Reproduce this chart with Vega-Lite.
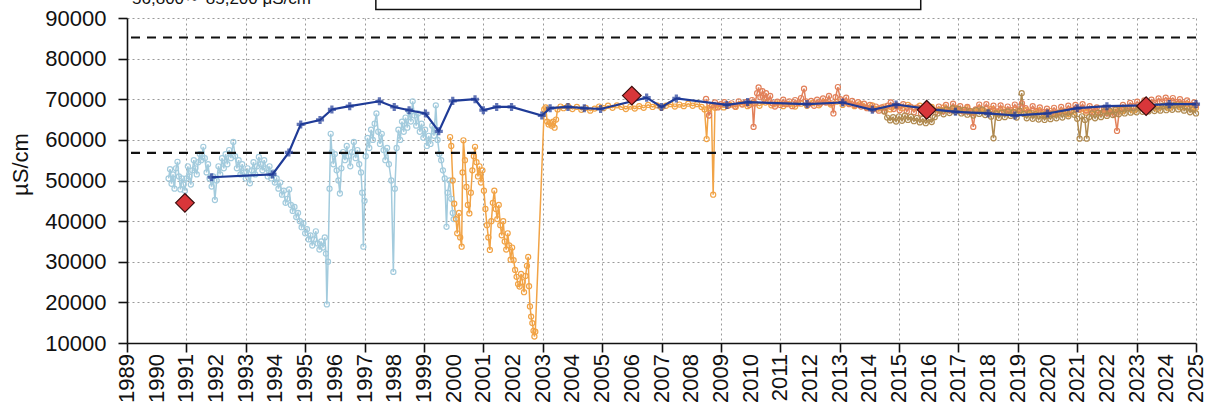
{
"$schema":"https://vega.github.io/schema/vega-lite/v6.json",
"width":1069,"height":325,
"autosize":{"type":"none"},
"padding":{"left":127,"top":18,"right":11,"bottom":75},
"background":"white",
"config":{"view":{"stroke":null},"font":"Liberation Sans",
"axis":{"domainColor":"#111","domainWidth":1.6,"tickColor":"#111","tickWidth":1.6,"tickSize":9,"labelColor":"#111","labelFont":"Liberation Sans","gridColor":"#9a9a9a","gridDash":[2,3],"gridWidth":1}},
"datasets":{
"pts":[
{"s":"b","x":1990.40,"y":50500},{"s":"b","x":1990.45,"y":52800},{"s":"b","x":1990.50,"y":49200},{"s":"b","x":1990.55,"y":51500},{"s":"b","x":1990.60,"y":48000},{"s":"b","x":1990.65,"y":53000},{"s":"b","x":1990.70,"y":54600},{"s":"b","x":1990.75,"y":51000},{"s":"b","x":1990.80,"y":47800},{"s":"b","x":1990.85,"y":50500},{"s":"b","x":1990.90,"y":49000},{"s":"b","x":1990.95,"y":47500},{"s":"b","x":1991.00,"y":50500},{"s":"b","x":1991.05,"y":53500},{"s":"b","x":1991.10,"y":51000},{"s":"b","x":1991.15,"y":49000},{"s":"b","x":1991.20,"y":52500},{"s":"b","x":1991.25,"y":55000},{"s":"b","x":1991.30,"y":53000},{"s":"b","x":1991.35,"y":51500},{"s":"b","x":1991.40,"y":54500},{"s":"b","x":1991.45,"y":56500},{"s":"b","x":1991.50,"y":55000},{"s":"b","x":1991.57,"y":58300},{"s":"b","x":1991.62,"y":55500},{"s":"b","x":1991.68,"y":52000},{"s":"b","x":1991.73,"y":54000},{"s":"b","x":1991.78,"y":50500},{"s":"b","x":1991.85,"y":48500},{"s":"b","x":1991.90,"y":51000},{"s":"b","x":1991.96,"y":45200},{"s":"b","x":1992.02,"y":50000},{"s":"b","x":1992.08,"y":53500},{"s":"b","x":1992.14,"y":51500},{"s":"b","x":1992.20,"y":55500},{"s":"b","x":1992.26,"y":53000},{"s":"b","x":1992.32,"y":56500},{"s":"b","x":1992.38,"y":54000},{"s":"b","x":1992.44,"y":57500},{"s":"b","x":1992.50,"y":55500},{"s":"b","x":1992.58,"y":59500},{"s":"b","x":1992.64,"y":56000},{"s":"b","x":1992.70,"y":53000},{"s":"b","x":1992.76,"y":55000},{"s":"b","x":1992.82,"y":51500},{"s":"b","x":1992.88,"y":54000},{"s":"b","x":1992.94,"y":52000},{"s":"b","x":1993.00,"y":50500},{"s":"b","x":1993.06,"y":53000},{"s":"b","x":1993.14,"y":49300},{"s":"b","x":1993.20,"y":52500},{"s":"b","x":1993.26,"y":54500},{"s":"b","x":1993.32,"y":51500},{"s":"b","x":1993.38,"y":53500},{"s":"b","x":1993.44,"y":55800},{"s":"b","x":1993.50,"y":54000},{"s":"b","x":1993.56,"y":52500},{"s":"b","x":1993.62,"y":55000},{"s":"b","x":1993.68,"y":53000},{"s":"b","x":1993.74,"y":51000},{"s":"b","x":1993.80,"y":53500},{"s":"b","x":1993.86,"y":50500},{"s":"b","x":1993.92,"y":52000},{"s":"b","x":1993.98,"y":49500},{"s":"b","x":1994.04,"y":50500},{"s":"b","x":1994.10,"y":48000},{"s":"b","x":1994.16,"y":49500},{"s":"b","x":1994.22,"y":46500},{"s":"b","x":1994.28,"y":47500},{"s":"b","x":1994.34,"y":44500},{"s":"b","x":1994.40,"y":45500},{"s":"b","x":1994.46,"y":47800},{"s":"b","x":1994.52,"y":44000},{"s":"b","x":1994.58,"y":42500},{"s":"b","x":1994.64,"y":43500},{"s":"b","x":1994.70,"y":41000},{"s":"b","x":1994.76,"y":42000},{"s":"b","x":1994.82,"y":40000},{"s":"b","x":1994.88,"y":38500},{"s":"b","x":1994.94,"y":39500},{"s":"b","x":1995.00,"y":37000},{"s":"b","x":1995.06,"y":38000},{"s":"b","x":1995.12,"y":35500},{"s":"b","x":1995.18,"y":36500},{"s":"b","x":1995.24,"y":34000},{"s":"b","x":1995.30,"y":35500},{"s":"b","x":1995.36,"y":37500},{"s":"b","x":1995.42,"y":34500},{"s":"b","x":1995.48,"y":33000},{"s":"b","x":1995.54,"y":35000},{"s":"b","x":1995.60,"y":33500},{"s":"b","x":1995.66,"y":36000},{"s":"b","x":1995.70,"y":32000},{"s":"b","x":1995.73,"y":19500},{"s":"b","x":1995.77,"y":30000},{"s":"b","x":1995.82,"y":48000},{"s":"b","x":1995.86,"y":61500},{"s":"b","x":1995.90,"y":57000},{"s":"b","x":1995.95,"y":54000},{"s":"b","x":1996.00,"y":56500},{"s":"b","x":1996.06,"y":52500},{"s":"b","x":1996.12,"y":50000},{"s":"b","x":1996.17,"y":46800},{"s":"b","x":1996.22,"y":53000},{"s":"b","x":1996.28,"y":57000},{"s":"b","x":1996.34,"y":55000},{"s":"b","x":1996.40,"y":58500},{"s":"b","x":1996.46,"y":56000},{"s":"b","x":1996.52,"y":53500},{"s":"b","x":1996.58,"y":57000},{"s":"b","x":1996.64,"y":59500},{"s":"b","x":1996.70,"y":55500},{"s":"b","x":1996.76,"y":57500},{"s":"b","x":1996.82,"y":54000},{"s":"b","x":1996.88,"y":52000},{"s":"b","x":1996.92,"y":47000},{"s":"b","x":1996.96,"y":33700},{"s":"b","x":1997.00,"y":45000},{"s":"b","x":1997.04,"y":56000},{"s":"b","x":1997.10,"y":60500},{"s":"b","x":1997.16,"y":58000},{"s":"b","x":1997.22,"y":62500},{"s":"b","x":1997.28,"y":60000},{"s":"b","x":1997.34,"y":64000},{"s":"b","x":1997.40,"y":66500},{"s":"b","x":1997.46,"y":62000},{"s":"b","x":1997.52,"y":59000},{"s":"b","x":1997.58,"y":61500},{"s":"b","x":1997.64,"y":57500},{"s":"b","x":1997.70,"y":55000},{"s":"b","x":1997.76,"y":58000},{"s":"b","x":1997.82,"y":54000},{"s":"b","x":1997.90,"y":50000},{"s":"b","x":1997.97,"y":27500},{"s":"b","x":1998.02,"y":48000},{"s":"b","x":1998.08,"y":58000},{"s":"b","x":1998.14,"y":62500},{"s":"b","x":1998.20,"y":60000},{"s":"b","x":1998.26,"y":64500},{"s":"b","x":1998.32,"y":62000},{"s":"b","x":1998.38,"y":65500},{"s":"b","x":1998.44,"y":63000},{"s":"b","x":1998.50,"y":67000},{"s":"b","x":1998.56,"y":64500},{"s":"b","x":1998.62,"y":69500},{"s":"b","x":1998.68,"y":66000},{"s":"b","x":1998.74,"y":63500},{"s":"b","x":1998.80,"y":66500},{"s":"b","x":1998.86,"y":62000},{"s":"b","x":1998.92,"y":64000},{"s":"b","x":1998.98,"y":60500},{"s":"b","x":1999.04,"y":62500},{"s":"b","x":1999.10,"y":58500},{"s":"b","x":1999.16,"y":61000},{"s":"b","x":1999.22,"y":59000},{"s":"b","x":1999.28,"y":63500},{"s":"b","x":1999.34,"y":61000},{"s":"b","x":1999.40,"y":68500},{"s":"b","x":1999.46,"y":60000},{"s":"b","x":1999.52,"y":56500},{"s":"b","x":1999.58,"y":55000},{"s":"b","x":1999.64,"y":52500},{"s":"b","x":1999.70,"y":50500},{"s":"b","x":1999.76,"y":38600},{"s":"b","x":1999.80,"y":47000},{"s":"b","x":1999.86,"y":50000},{"s":"b","x":1999.92,"y":45500},{"s":"b","x":1999.97,"y":42000},{"s":"b","x":2000.00,"y":40500},
{"s":"o","x":1999.88,"y":60700},{"s":"o","x":1999.92,"y":58500},{"s":"o","x":1999.97,"y":50000},{"s":"o","x":2000.02,"y":44300},{"s":"o","x":2000.08,"y":40500},{"s":"o","x":2000.12,"y":37000},{"s":"o","x":2000.18,"y":42000},{"s":"o","x":2000.22,"y":36000},{"s":"o","x":2000.27,"y":33700},{"s":"o","x":2000.30,"y":52000},{"s":"o","x":2000.33,"y":59900},{"s":"o","x":2000.38,"y":55000},{"s":"o","x":2000.43,"y":48400},{"s":"o","x":2000.48,"y":44000},{"s":"o","x":2000.53,"y":41900},{"s":"o","x":2000.58,"y":47000},{"s":"o","x":2000.63,"y":52500},{"s":"o","x":2000.68,"y":56000},{"s":"o","x":2000.72,"y":58300},{"s":"o","x":2000.77,"y":54500},{"s":"o","x":2000.82,"y":51000},{"s":"o","x":2000.87,"y":53500},{"s":"o","x":2000.92,"y":49500},{"s":"o","x":2000.97,"y":52500},{"s":"o","x":2001.02,"y":47500},{"s":"o","x":2001.07,"y":43000},{"s":"o","x":2001.12,"y":39000},{"s":"o","x":2001.17,"y":36000},{"s":"o","x":2001.22,"y":32900},{"s":"o","x":2001.27,"y":40000},{"s":"o","x":2001.32,"y":44500},{"s":"o","x":2001.37,"y":47500},{"s":"o","x":2001.42,"y":43000},{"s":"o","x":2001.47,"y":40500},{"s":"o","x":2001.52,"y":44000},{"s":"o","x":2001.57,"y":39000},{"s":"o","x":2001.62,"y":36500},{"s":"o","x":2001.67,"y":40000},{"s":"o","x":2001.72,"y":35000},{"s":"o","x":2001.77,"y":33000},{"s":"o","x":2001.82,"y":37000},{"s":"o","x":2001.87,"y":34000},{"s":"o","x":2001.92,"y":30500},{"s":"o","x":2001.97,"y":33500},{"s":"o","x":2002.02,"y":30400},{"s":"o","x":2002.07,"y":28000},{"s":"o","x":2002.12,"y":26300},{"s":"o","x":2002.17,"y":24500},{"s":"o","x":2002.22,"y":23900},{"s":"o","x":2002.27,"y":27000},{"s":"o","x":2002.32,"y":25000},{"s":"o","x":2002.37,"y":22500},{"s":"o","x":2002.42,"y":26500},{"s":"o","x":2002.47,"y":29000},{"s":"o","x":2002.51,"y":31200},{"s":"o","x":2002.54,"y":24000},{"s":"o","x":2002.57,"y":19000},{"s":"o","x":2002.61,"y":16500},{"s":"o","x":2002.65,"y":14900},{"s":"o","x":2002.69,"y":13000},{"s":"o","x":2002.72,"y":11600},{"s":"o","x":2002.75,"y":12800},{"s":"o","x":2003.05,"y":67500},{"s":"o","x":2003.10,"y":68000},{"s":"o","x":2003.15,"y":64500},{"s":"o","x":2003.20,"y":63800},{"s":"o","x":2003.25,"y":64200},{"s":"o","x":2003.30,"y":63500},{"s":"o","x":2003.35,"y":64500},{"s":"o","x":2003.40,"y":63000},{"s":"o","x":2003.45,"y":65000},{"s":"o","x":2003.50,"y":67500},{"s":"o","x":2003.60,"y":68200},{"s":"o","x":2003.70,"y":67800},{"s":"o","x":2003.85,"y":68300},{"s":"o","x":2004.00,"y":67600},{"s":"o","x":2004.15,"y":68100},{"s":"o","x":2004.30,"y":67400},{"s":"o","x":2004.45,"y":67900},{"s":"o","x":2004.60,"y":67200},{"s":"o","x":2004.75,"y":67700},{"s":"o","x":2004.90,"y":68200},{"s":"o","x":2005.05,"y":67800},{"s":"o","x":2005.20,"y":68400},{"s":"o","x":2005.35,"y":67900},{"s":"o","x":2005.50,"y":68500},{"s":"o","x":2005.65,"y":68100},{"s":"o","x":2005.80,"y":67600},{"s":"o","x":2005.95,"y":68200},{"s":"o","x":2006.10,"y":67700},{"s":"o","x":2006.25,"y":68300},{"s":"o","x":2006.40,"y":67900},{"s":"o","x":2006.55,"y":68600},{"s":"o","x":2006.70,"y":68100},{"s":"o","x":2006.85,"y":68500},{"s":"o","x":2007.00,"y":67900},{"s":"o","x":2007.15,"y":68400},{"s":"o","x":2007.30,"y":68800},{"s":"o","x":2007.45,"y":68200},{"s":"o","x":2007.60,"y":68700},{"s":"o","x":2007.75,"y":68300},{"s":"o","x":2007.90,"y":68900},{"s":"o","x":2008.05,"y":68400},{"s":"o","x":2008.20,"y":68800},{"s":"o","x":2008.35,"y":68100},{"s":"o","x":2008.45,"y":67500},{"s":"o","x":2008.52,"y":60200},{"s":"o","x":2008.58,"y":67800},{"s":"o","x":2008.68,"y":68200},{"s":"o","x":2008.74,"y":46500},{"s":"o","x":2008.80,"y":67900},{"s":"o","x":2008.95,"y":68400},{"s":"o","x":2009.10,"y":68000},{"s":"o","x":2009.30,"y":68600},{"s":"o","x":2009.50,"y":68100},{"s":"o","x":2009.70,"y":68900},{"s":"o","x":2009.90,"y":68300},{"s":"o","x":2010.10,"y":69000},{"s":"o","x":2010.30,"y":68400},{"s":"o","x":2010.50,"y":69200},{"s":"o","x":2010.70,"y":68500},{"s":"o","x":2010.90,"y":69000},{"s":"o","x":2011.10,"y":68300},{"s":"o","x":2011.30,"y":68800},{"s":"o","x":2011.50,"y":68200},{"s":"o","x":2011.70,"y":68900},{"s":"o","x":2011.90,"y":68400},{"s":"o","x":2012.10,"y":69100},{"s":"o","x":2012.30,"y":68500},{"s":"o","x":2012.50,"y":69300},{"s":"o","x":2012.70,"y":68700},{"s":"o","x":2012.90,"y":69400},{"s":"o","x":2013.10,"y":68600},{"s":"o","x":2013.30,"y":69100},{"s":"o","x":2013.50,"y":68300},{"s":"o","x":2013.70,"y":68800},{"s":"o","x":2013.90,"y":68000},{"s":"o","x":2014.10,"y":68500},{"s":"o","x":2014.30,"y":67700},{"s":"o","x":2014.50,"y":68200},{"s":"o","x":2014.70,"y":67500},{"s":"o","x":2014.90,"y":68300},{"s":"o","x":2015.10,"y":67800},{"s":"o","x":2015.30,"y":68600},{"s":"o","x":2015.50,"y":67900},{"s":"o","x":2015.70,"y":68400},{"s":"o","x":2015.90,"y":67600},{"s":"o","x":2016.10,"y":68100},{"s":"o","x":2016.30,"y":67400},{"s":"o","x":2016.50,"y":68000},{"s":"o","x":2016.70,"y":67300},{"s":"o","x":2016.90,"y":67900},{"s":"o","x":2017.10,"y":67200},{"s":"o","x":2017.30,"y":67800},{"s":"o","x":2017.50,"y":67100},{"s":"o","x":2017.70,"y":67700},{"s":"o","x":2017.90,"y":67000},{"s":"o","x":2018.10,"y":67600},{"s":"o","x":2018.30,"y":66900},{"s":"o","x":2018.50,"y":67500},{"s":"o","x":2018.70,"y":66800},{"s":"o","x":2018.90,"y":67400},{"s":"o","x":2019.10,"y":66700},{"s":"o","x":2019.30,"y":67300},{"s":"o","x":2019.50,"y":66600},{"s":"o","x":2019.70,"y":67200},{"s":"o","x":2019.90,"y":66500},{"s":"o","x":2020.10,"y":67100},{"s":"o","x":2020.30,"y":66400},{"s":"o","x":2020.50,"y":67000},{"s":"o","x":2020.70,"y":66300},{"s":"o","x":2020.90,"y":66900},{"s":"o","x":2021.10,"y":67400},{"s":"o","x":2021.30,"y":66700},{"s":"o","x":2021.50,"y":67300},{"s":"o","x":2021.70,"y":66600},{"s":"o","x":2021.90,"y":67500},{"s":"o","x":2022.10,"y":66800},{"s":"o","x":2022.30,"y":67600},{"s":"o","x":2022.50,"y":67000},{"s":"o","x":2022.70,"y":67800},{"s":"o","x":2022.90,"y":67200},{"s":"o","x":2023.10,"y":68000},{"s":"o","x":2023.30,"y":67400},{"s":"o","x":2023.50,"y":68200},{"s":"o","x":2023.70,"y":67600},{"s":"o","x":2023.90,"y":68400},{"s":"o","x":2024.10,"y":67800},{"s":"o","x":2024.30,"y":68600},{"s":"o","x":2024.50,"y":68000},{"s":"o","x":2024.70,"y":68800},{"s":"o","x":2024.90,"y":68200},{"s":"o","x":2025.00,"y":67900},
{"s":"r","x":2008.50,"y":70100},{"s":"r","x":2008.60,"y":66000},{"s":"r","x":2008.70,"y":68500},{"s":"r","x":2008.80,"y":69200},{"s":"r","x":2008.90,"y":68000},{"s":"r","x":2009.00,"y":68800},{"s":"r","x":2009.12,"y":69300},{"s":"r","x":2009.24,"y":68400},{"s":"r","x":2009.36,"y":69000},{"s":"r","x":2009.48,"y":68200},{"s":"r","x":2009.60,"y":69500},{"s":"r","x":2009.72,"y":68700},{"s":"r","x":2009.84,"y":69300},{"s":"r","x":2009.96,"y":68600},{"s":"r","x":2010.05,"y":69800},{"s":"r","x":2010.10,"y":63200},{"s":"r","x":2010.15,"y":69000},{"s":"r","x":2010.22,"y":71500},{"s":"r","x":2010.27,"y":72900},{"s":"r","x":2010.33,"y":70500},{"s":"r","x":2010.40,"y":72000},{"s":"r","x":2010.46,"y":70000},{"s":"r","x":2010.52,"y":71500},{"s":"r","x":2010.58,"y":69500},{"s":"r","x":2010.66,"y":70800},{"s":"r","x":2010.74,"y":69000},{"s":"r","x":2010.82,"y":68200},{"s":"r","x":2010.90,"y":69400},{"s":"r","x":2011.00,"y":68600},{"s":"r","x":2011.10,"y":69900},{"s":"r","x":2011.20,"y":68800},{"s":"r","x":2011.30,"y":69500},{"s":"r","x":2011.40,"y":68300},{"s":"r","x":2011.50,"y":69800},{"s":"r","x":2011.60,"y":69000},{"s":"r","x":2011.70,"y":70300},{"s":"r","x":2011.80,"y":72600},{"s":"r","x":2011.86,"y":69500},{"s":"r","x":2011.94,"y":68700},{"s":"r","x":2012.04,"y":69600},{"s":"r","x":2012.14,"y":68400},{"s":"r","x":2012.24,"y":69900},{"s":"r","x":2012.34,"y":68900},{"s":"r","x":2012.44,"y":70200},{"s":"r","x":2012.54,"y":69200},{"s":"r","x":2012.64,"y":70800},{"s":"r","x":2012.72,"y":69000},{"s":"r","x":2012.79,"y":66500},{"s":"r","x":2012.86,"y":70500},{"s":"r","x":2012.94,"y":73000},{"s":"r","x":2013.02,"y":70000},{"s":"r","x":2013.12,"y":69200},{"s":"r","x":2013.22,"y":70400},{"s":"r","x":2013.32,"y":68800},{"s":"r","x":2013.42,"y":69600},{"s":"r","x":2013.52,"y":68500},{"s":"r","x":2013.62,"y":69300},{"s":"r","x":2013.72,"y":68200},{"s":"r","x":2013.82,"y":68900},{"s":"r","x":2013.92,"y":67800},{"s":"r","x":2014.02,"y":68600},{"s":"r","x":2014.12,"y":67500},{"s":"r","x":2014.22,"y":68200},{"s":"r","x":2014.32,"y":67200},{"s":"r","x":2014.42,"y":68000},{"s":"r","x":2014.52,"y":67000},{"s":"r","x":2014.62,"y":68400},{"s":"r","x":2014.72,"y":69200},{"s":"r","x":2014.82,"y":67600},{"s":"r","x":2014.92,"y":68500},{"s":"r","x":2015.02,"y":67300},{"s":"r","x":2015.14,"y":68800},{"s":"r","x":2015.26,"y":67000},{"s":"r","x":2015.38,"y":68200},{"s":"r","x":2015.50,"y":66800},{"s":"r","x":2015.62,"y":68000},{"s":"r","x":2015.74,"y":66500},{"s":"r","x":2015.86,"y":67800},{"s":"r","x":2015.98,"y":66200},{"s":"r","x":2016.10,"y":67500},{"s":"r","x":2016.22,"y":66800},{"s":"r","x":2016.34,"y":68200},{"s":"r","x":2016.46,"y":67000},{"s":"r","x":2016.58,"y":68600},{"s":"r","x":2016.70,"y":67300},{"s":"r","x":2016.82,"y":68900},{"s":"r","x":2016.94,"y":67600},{"s":"r","x":2017.06,"y":68300},{"s":"r","x":2017.18,"y":66900},{"s":"r","x":2017.30,"y":68100},{"s":"r","x":2017.42,"y":66700},{"s":"r","x":2017.50,"y":63200},{"s":"r","x":2017.58,"y":67500},{"s":"r","x":2017.70,"y":68700},{"s":"r","x":2017.82,"y":67400},{"s":"r","x":2017.94,"y":68800},{"s":"r","x":2018.06,"y":67200},{"s":"r","x":2018.18,"y":68400},{"s":"r","x":2018.30,"y":67000},{"s":"r","x":2018.42,"y":68500},{"s":"r","x":2018.54,"y":66900},{"s":"r","x":2018.66,"y":68200},{"s":"r","x":2018.78,"y":67300},{"s":"r","x":2018.90,"y":68700},{"s":"r","x":2019.02,"y":67500},{"s":"r","x":2019.14,"y":69000},{"s":"r","x":2019.26,"y":67800},{"s":"r","x":2019.38,"y":66900},{"s":"r","x":2019.50,"y":68300},{"s":"r","x":2019.62,"y":67100},{"s":"r","x":2019.74,"y":68000},{"s":"r","x":2019.86,"y":66800},{"s":"r","x":2019.98,"y":67700},{"s":"r","x":2020.10,"y":66500},{"s":"r","x":2020.22,"y":67900},{"s":"r","x":2020.34,"y":66700},{"s":"r","x":2020.46,"y":68100},{"s":"r","x":2020.58,"y":67000},{"s":"r","x":2020.70,"y":68400},{"s":"r","x":2020.82,"y":67300},{"s":"r","x":2020.94,"y":68600},{"s":"r","x":2021.06,"y":67500},{"s":"r","x":2021.18,"y":68800},{"s":"r","x":2021.30,"y":67200},{"s":"r","x":2021.42,"y":68300},{"s":"r","x":2021.54,"y":66900},{"s":"r","x":2021.66,"y":68000},{"s":"r","x":2021.78,"y":66600},{"s":"r","x":2021.90,"y":67800},{"s":"r","x":2022.02,"y":66500},{"s":"r","x":2022.14,"y":67600},{"s":"r","x":2022.26,"y":66300},{"s":"r","x":2022.34,"y":62200},{"s":"r","x":2022.42,"y":67400},{"s":"r","x":2022.54,"y":68600},{"s":"r","x":2022.66,"y":67900},{"s":"r","x":2022.78,"y":69100},{"s":"r","x":2022.90,"y":68300},{"s":"r","x":2023.02,"y":69400},{"s":"r","x":2023.14,"y":68600},{"s":"r","x":2023.26,"y":69700},{"s":"r","x":2023.38,"y":68800},{"s":"r","x":2023.50,"y":69900},{"s":"r","x":2023.62,"y":69100},{"s":"r","x":2023.74,"y":70200},{"s":"r","x":2023.86,"y":69400},{"s":"r","x":2023.98,"y":70400},{"s":"r","x":2024.10,"y":69600},{"s":"r","x":2024.22,"y":70300},{"s":"r","x":2024.34,"y":69300},{"s":"r","x":2024.46,"y":70000},{"s":"r","x":2024.58,"y":68900},{"s":"r","x":2024.70,"y":69700},{"s":"r","x":2024.82,"y":68600},{"s":"r","x":2024.94,"y":69200},{"s":"r","x":2025.00,"y":68500},
{"s":"k","x":2014.50,"y":67000},{"s":"k","x":2014.60,"y":65500},{"s":"k","x":2014.70,"y":64800},{"s":"k","x":2014.80,"y":65600},{"s":"k","x":2014.90,"y":64500},{"s":"k","x":2015.00,"y":65800},{"s":"k","x":2015.10,"y":64700},{"s":"k","x":2015.20,"y":66000},{"s":"k","x":2015.30,"y":64900},{"s":"k","x":2015.40,"y":65700},{"s":"k","x":2015.50,"y":64600},{"s":"k","x":2015.60,"y":65400},{"s":"k","x":2015.70,"y":64300},{"s":"k","x":2015.80,"y":65200},{"s":"k","x":2015.90,"y":64100},{"s":"k","x":2016.00,"y":65000},{"s":"k","x":2016.10,"y":64400},{"s":"k","x":2016.20,"y":65600},{"s":"k","x":2016.30,"y":66500},{"s":"k","x":2016.40,"y":67200},{"s":"k","x":2016.50,"y":66300},{"s":"k","x":2016.60,"y":67500},{"s":"k","x":2016.70,"y":66600},{"s":"k","x":2016.80,"y":67800},{"s":"k","x":2016.90,"y":66900},{"s":"k","x":2017.00,"y":67600},{"s":"k","x":2017.10,"y":66500},{"s":"k","x":2017.20,"y":67400},{"s":"k","x":2017.30,"y":66200},{"s":"k","x":2017.40,"y":67100},{"s":"k","x":2017.50,"y":66000},{"s":"k","x":2017.60,"y":67300},{"s":"k","x":2017.70,"y":66400},{"s":"k","x":2017.80,"y":67500},{"s":"k","x":2017.90,"y":66100},{"s":"k","x":2018.00,"y":66800},{"s":"k","x":2018.10,"y":65700},{"s":"k","x":2018.18,"y":60400},{"s":"k","x":2018.26,"y":66500},{"s":"k","x":2018.36,"y":65400},{"s":"k","x":2018.46,"y":66700},{"s":"k","x":2018.56,"y":65600},{"s":"k","x":2018.66,"y":67000},{"s":"k","x":2018.76,"y":65900},{"s":"k","x":2018.86,"y":66800},{"s":"k","x":2018.96,"y":65500},{"s":"k","x":2019.06,"y":67200},{"s":"k","x":2019.13,"y":71500},{"s":"k","x":2019.20,"y":66400},{"s":"k","x":2019.30,"y":65300},{"s":"k","x":2019.40,"y":66600},{"s":"k","x":2019.50,"y":65200},{"s":"k","x":2019.60,"y":66300},{"s":"k","x":2019.70,"y":65000},{"s":"k","x":2019.80,"y":66100},{"s":"k","x":2019.90,"y":64900},{"s":"k","x":2020.00,"y":66000},{"s":"k","x":2020.10,"y":65100},{"s":"k","x":2020.20,"y":66400},{"s":"k","x":2020.30,"y":65300},{"s":"k","x":2020.40,"y":66700},{"s":"k","x":2020.50,"y":65500},{"s":"k","x":2020.60,"y":66900},{"s":"k","x":2020.70,"y":65800},{"s":"k","x":2020.80,"y":67000},{"s":"k","x":2020.90,"y":66200},{"s":"k","x":2021.00,"y":65200},{"s":"k","x":2021.08,"y":60300},{"s":"k","x":2021.16,"y":65800},{"s":"k","x":2021.26,"y":64900},{"s":"k","x":2021.32,"y":60300},{"s":"k","x":2021.40,"y":65600},{"s":"k","x":2021.50,"y":66500},{"s":"k","x":2021.60,"y":65300},{"s":"k","x":2021.70,"y":66700},{"s":"k","x":2021.80,"y":65600},{"s":"k","x":2021.90,"y":67000},{"s":"k","x":2022.00,"y":65900},{"s":"k","x":2022.10,"y":67200},{"s":"k","x":2022.20,"y":66100},{"s":"k","x":2022.30,"y":67400},{"s":"k","x":2022.40,"y":66300},{"s":"k","x":2022.50,"y":67600},{"s":"k","x":2022.60,"y":66500},{"s":"k","x":2022.70,"y":67800},{"s":"k","x":2022.80,"y":66700},{"s":"k","x":2022.90,"y":67900},{"s":"k","x":2023.00,"y":66800},{"s":"k","x":2023.10,"y":68000},{"s":"k","x":2023.20,"y":66900},{"s":"k","x":2023.30,"y":68100},{"s":"k","x":2023.40,"y":67000},{"s":"k","x":2023.50,"y":68200},{"s":"k","x":2023.60,"y":67100},{"s":"k","x":2023.70,"y":68300},{"s":"k","x":2023.80,"y":67200},{"s":"k","x":2023.90,"y":68400},{"s":"k","x":2024.00,"y":67300},{"s":"k","x":2024.10,"y":68500},{"s":"k","x":2024.20,"y":67400},{"s":"k","x":2024.30,"y":68600},{"s":"k","x":2024.40,"y":67500},{"s":"k","x":2024.50,"y":68700},{"s":"k","x":2024.60,"y":67200},{"s":"k","x":2024.70,"y":68000},{"s":"k","x":2024.80,"y":66800},{"s":"k","x":2024.90,"y":67500},{"s":"k","x":2025.00,"y":66500}
],
"annual":[
{"x":1991.85,"y":50800},{"x":1993.90,"y":51500},{"x":1994.45,"y":56900},{"x":1994.85,"y":63800},{"x":1995.50,"y":64900},{"x":1995.90,"y":67500},{"x":1996.50,"y":68300},{"x":1997.50,"y":69500},{"x":1998.00,"y":68100},{"x":1998.50,"y":67300},{"x":1999.05,"y":66500},{"x":1999.50,"y":62100},{"x":1999.97,"y":69600},{"x":2000.72,"y":70000},{"x":2001.00,"y":67300},{"x":2001.45,"y":68100},{"x":2001.95,"y":68100},{"x":2002.97,"y":66000},{"x":2003.25,"y":67800},{"x":2003.85,"y":68100},{"x":2004.40,"y":67800},{"x":2004.95,"y":67600},{"x":2006.50,"y":70400},{"x":2007.00,"y":68100},{"x":2007.50,"y":70200},{"x":2009.20,"y":68600},{"x":2009.90,"y":69300},{"x":2011.90,"y":68800},{"x":2013.10,"y":69200},{"x":2014.10,"y":67400},{"x":2014.90,"y":68700},{"x":2015.90,"y":67700},{"x":2016.90,"y":66900},{"x":2018.00,"y":66500},{"x":2018.90,"y":66000},{"x":2020.00,"y":66500},{"x":2021.00,"y":67800},{"x":2022.00,"y":68300},{"x":2023.20,"y":68500},{"x":2024.10,"y":68800},{"x":2025.00,"y":68800}
],
"dia":[{"x":1990.95,"y":44500},{"x":2006.0,"y":70900},{"x":2015.93,"y":67400},{"x":2023.32,"y":68300}],
"lim":[{"y":85200},{"y":56800}],
"yrs":[{"yr":1989},{"yr":1990},{"yr":1991},{"yr":1992},{"yr":1993},{"yr":1994},{"yr":1995},{"yr":1996},{"yr":1997},{"yr":1998},{"yr":1999},{"yr":2000},{"yr":2001},{"yr":2002},{"yr":2003},{"yr":2004},{"yr":2005},{"yr":2006},{"yr":2007},{"yr":2008},{"yr":2009},{"yr":2010},{"yr":2011},{"yr":2012},{"yr":2013},{"yr":2014},{"yr":2015},{"yr":2016},{"yr":2017},{"yr":2018},{"yr":2019},{"yr":2020},{"yr":2021},{"yr":2022},{"yr":2023},{"yr":2024},{"yr":2025}],
"cap":[{"t":"56,800～ 85,200 μS/cm"}]
},
"layer":[
{"data":{"name":"pts"},
 "mark":{"type":"line","strokeWidth":1.5,"point":{"filled":false,"size":26,"strokeWidth":1.2}},
 "encoding":{
  "x":{"field":"x","type":"quantitative","scale":{"domain":[1989,2025],"nice":false,"zero":false},
       "axis":{"title":null,"values":[1989,1990,1991,1992,1993,1994,1995,1996,1997,1998,1999,2000,2001,2002,2003,2004,2005,2006,2007,2008,2009,2010,2011,2012,2013,2014,2015,2016,2017,2018,2019,2020,2021,2022,2023,2024,2025],"labels":false}},
  "y":{"field":"y","type":"quantitative","scale":{"domain":[10000,90000],"nice":false,"zero":false},
       "axis":{"title":"µS/cm","titleFontSize":22,"titleFontWeight":"normal","titleColor":"#111","titleX":-107,"titleY":146,"titleBaseline":"middle","values":[10000,20000,30000,40000,50000,60000,70000,80000,90000],"format":"d","labelFontSize":22,"labelPadding":12,"labelFlush":false}},
  "color":{"field":"s","type":"nominal","scale":{"domain":["b","o","r","k"],"range":["#a3cbdd","#f1a346","#e2805a","#b08a50"]},"legend":null},
  "detail":{"field":"s"}
 }},
{"data":{"name":"lim"},"mark":{"type":"rule","color":"#111","strokeWidth":2.2,"strokeDash":[9,7]},
 "encoding":{"y":{"field":"y","type":"quantitative"}}},
{"data":{"name":"annual"},"mark":{"type":"line","color":"#1f3b97","strokeWidth":2.2},
 "encoding":{"x":{"field":"x","type":"quantitative"},"y":{"field":"y","type":"quantitative"}}},
{"data":{"name":"annual"},"mark":{"type":"point","shape":"cross","filled":true,"color":"#1f3b97","size":65},
 "encoding":{"x":{"field":"x","type":"quantitative"},"y":{"field":"y","type":"quantitative"}}},
{"data":{"name":"dia"},"mark":{"type":"point","shape":"diamond","filled":true,"fill":"#d8363a","stroke":"#3b0d0d","strokeWidth":1.2,"size":350,"opacity":1},
 "encoding":{"x":{"field":"x","type":"quantitative"},"y":{"field":"y","type":"quantitative"}}},
{"data":{"name":"yrs"},"mark":{"type":"text","angle":270,"align":"right","baseline":"middle","dx":-11,"fontSize":22,"font":"Liberation Sans","color":"#111","clip":false},
 "encoding":{"x":{"field":"yr","type":"quantitative"},"y":{"datum":10000,"type":"quantitative"},"text":{"field":"yr","type":"quantitative","format":"d"}}},
{"data":{"values":[{}]},"mark":{"type":"rect","fill":"white","stroke":"#111","strokeWidth":1.5,"clip":false},
 "encoding":{"x":{"datum":1997.38,"type":"quantitative"},"x2":{"datum":2015.73},"y":{"datum":92100,"type":"quantitative"},"y2":{"datum":99000}}},
{"data":{"name":"cap"},"mark":{"type":"text","align":"left","baseline":"alphabetic","fontSize":17,"font":"Liberation Sans","color":"#111","clip":false},
 "encoding":{"x":{"datum":1989.17,"type":"quantitative"},"y":{"datum":93560,"type":"quantitative"},"text":{"field":"t"}}}
]
}
